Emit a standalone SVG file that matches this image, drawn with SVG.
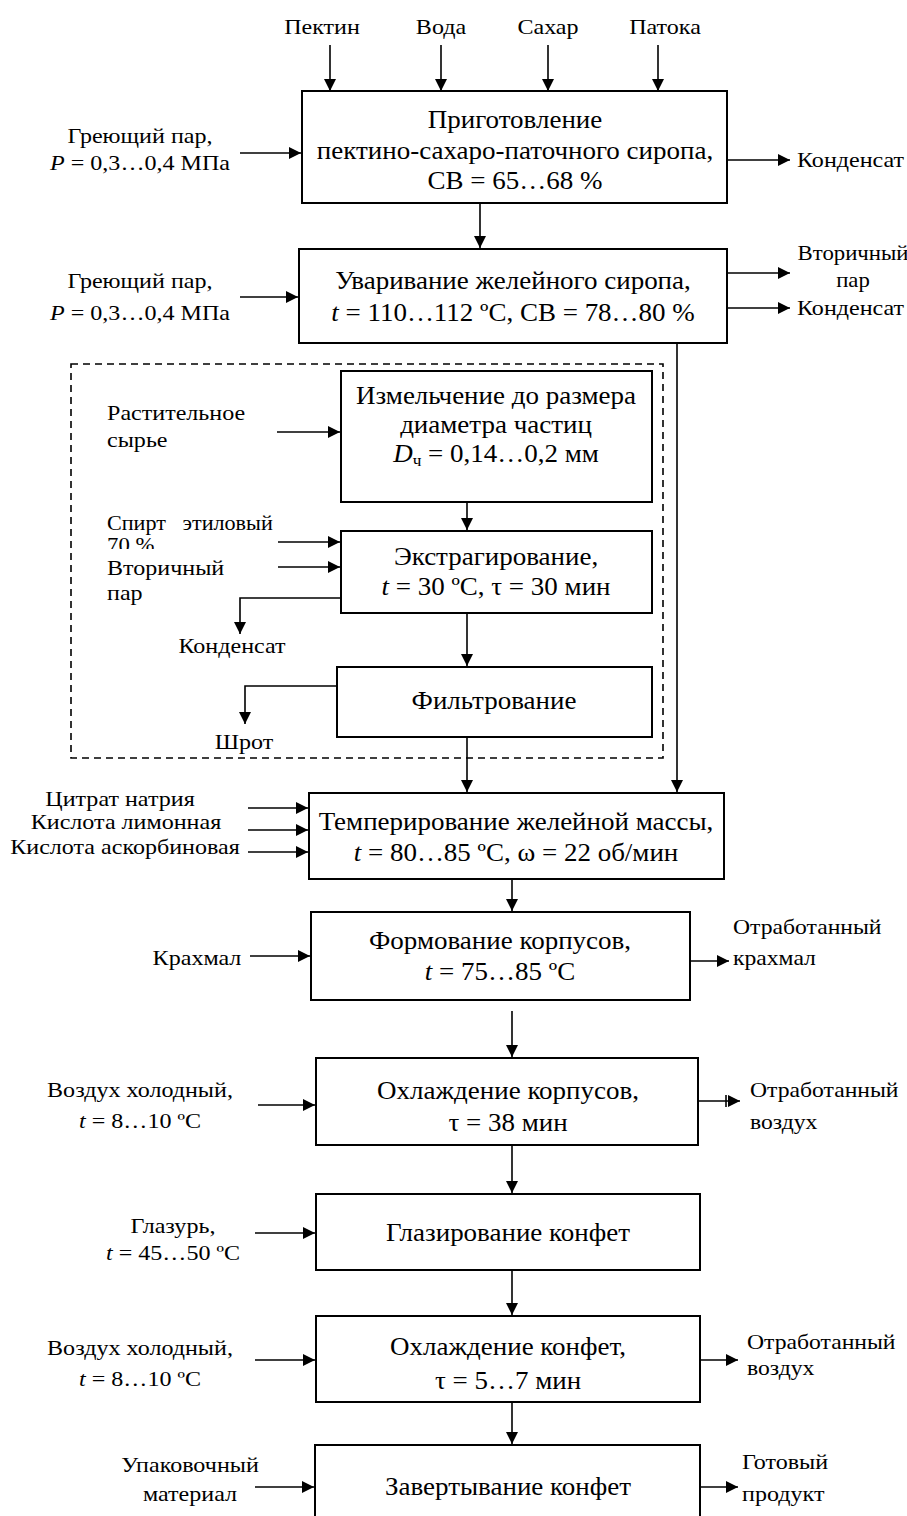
<svg xmlns="http://www.w3.org/2000/svg" width="907" height="1516" viewBox="0 0 907 1516">
<style>
text{font-family:"Liberation Serif","Times New Roman",serif;fill:#000}
.b{font-size:25px}
.l{font-size:21.5px}
.m{text-anchor:middle}
.i{font-style:italic}
.box{fill:#fff;stroke:#000;stroke-width:2}
.ln{fill:none;stroke:#000;stroke-width:1.6}
.dash{fill:none;stroke:#000;stroke-width:1.6;stroke-dasharray:7 5}
</style>
<defs>
<marker id="ah" markerUnits="userSpaceOnUse" markerWidth="14" markerHeight="14" refX="12" refY="7" orient="auto">
<path d="M0,1 L12,7 L0,13 Z" fill="#000"/>
</marker>
<clipPath id="clip70"><rect x="0" y="530" width="300" height="19"/></clipPath>
</defs>

<rect class="dash" x="71" y="364" width="592" height="394"/>

<g id="connectors">
<line class="ln" x1="330" y1="45" x2="330" y2="91" marker-end="url(#ah)"/>
<line class="ln" x1="441" y1="45" x2="441" y2="91" marker-end="url(#ah)"/>
<line class="ln" x1="548" y1="45" x2="548" y2="91" marker-end="url(#ah)"/>
<line class="ln" x1="658" y1="45" x2="658" y2="91" marker-end="url(#ah)"/>
<line class="ln" x1="240" y1="153" x2="301" y2="153" marker-end="url(#ah)"/>
<line class="ln" x1="728" y1="160" x2="790" y2="160" marker-end="url(#ah)"/>
<line class="ln" x1="480" y1="203" x2="480" y2="248" marker-end="url(#ah)"/>
<line class="ln" x1="240" y1="297" x2="298" y2="297" marker-end="url(#ah)"/>
<line class="ln" x1="728" y1="273" x2="790" y2="273" marker-end="url(#ah)"/>
<line class="ln" x1="728" y1="308" x2="790" y2="308" marker-end="url(#ah)"/>
<line class="ln" x1="677" y1="343" x2="677" y2="792" marker-end="url(#ah)"/>
<line class="ln" x1="277" y1="432" x2="340" y2="432" marker-end="url(#ah)"/>
<line class="ln" x1="467" y1="503" x2="467" y2="530" marker-end="url(#ah)"/>
<line class="ln" x1="278" y1="542" x2="340" y2="542" marker-end="url(#ah)"/>
<line class="ln" x1="278" y1="567" x2="340" y2="567" marker-end="url(#ah)"/>
<polyline class="ln" points="341,598 240,598 240,634" marker-end="url(#ah)"/>
<line class="ln" x1="467" y1="613" x2="467" y2="666" marker-end="url(#ah)"/>
<polyline class="ln" points="337,686 245,686 245,724" marker-end="url(#ah)"/>
<line class="ln" x1="467" y1="737" x2="467" y2="792" marker-end="url(#ah)"/>
<line class="ln" x1="248" y1="808" x2="308" y2="808" marker-end="url(#ah)"/>
<line class="ln" x1="248" y1="830" x2="308" y2="830" marker-end="url(#ah)"/>
<line class="ln" x1="248" y1="852" x2="308" y2="852" marker-end="url(#ah)"/>
<line class="ln" x1="512" y1="879" x2="512" y2="911" marker-end="url(#ah)"/>
<line class="ln" x1="250" y1="956" x2="310" y2="956" marker-end="url(#ah)"/>
<line class="ln" x1="691" y1="961" x2="729" y2="961" marker-end="url(#ah)"/>
<line class="ln" x1="512" y1="1011" x2="512" y2="1057" marker-end="url(#ah)"/>
<line class="ln" x1="258" y1="1105" x2="315" y2="1105" marker-end="url(#ah)"/>
<line class="ln" x1="699" y1="1101" x2="740" y2="1101" marker-end="url(#ah)"/>
<line class="ln" x1="726" y1="1095" x2="726" y2="1107"/>
<line class="ln" x1="512" y1="1146" x2="512" y2="1193" marker-end="url(#ah)"/>
<line class="ln" x1="255" y1="1233" x2="315" y2="1233" marker-end="url(#ah)"/>
<line class="ln" x1="512" y1="1271" x2="512" y2="1315" marker-end="url(#ah)"/>
<line class="ln" x1="255" y1="1360" x2="315" y2="1360" marker-end="url(#ah)"/>
<line class="ln" x1="701" y1="1360" x2="738" y2="1360" marker-end="url(#ah)"/>
<line class="ln" x1="512" y1="1403" x2="512" y2="1444" marker-end="url(#ah)"/>
<line class="ln" x1="255" y1="1487" x2="314" y2="1487" marker-end="url(#ah)"/>
<line class="ln" x1="701" y1="1487" x2="738" y2="1487" marker-end="url(#ah)"/>
</g>

<g id="inputs">
<text class="l m" transform="translate(322 34) scale(1.12 1)">Пектин</text>
<text class="l m" transform="translate(441 34) scale(1.12 1)">Вода</text>
<text class="l m" transform="translate(548 34) scale(1.12 1)">Сахар</text>
<text class="l m" transform="translate(665 34) scale(1.12 1)">Патока</text>
<text class="l m" transform="translate(140 143) scale(1.12 1)">Греющий пар,</text>
<text class="l m" transform="translate(140 170) scale(1.12 1)"><tspan class="i">P</tspan> = 0,3…0,4 МПа</text>
<text class="l" transform="translate(797 167) scale(1.12 1)">Конденсат</text>
<text class="l m" transform="translate(140 288) scale(1.12 1)">Греющий пар,</text>
<text class="l m" transform="translate(140 320) scale(1.12 1)"><tspan class="i">P</tspan> = 0,3…0,4 МПа</text>
<text class="l m" transform="translate(853 260) scale(1.06 1)">Вторичный</text>
<text class="l m" transform="translate(853 287) scale(1.06 1)">пар</text>
<text class="l" transform="translate(797 315) scale(1.12 1)">Конденсат</text>
<text class="l" transform="translate(107 420) scale(1.12 1)">Растительное</text>
<text class="l" transform="translate(107 447) scale(1.12 1)">сырье</text>
<text class="l" transform="translate(107 530) scale(1.03 1)" style="white-space:pre">Спирт   этиловый</text>
<g clip-path="url(#clip70)"><text class="l" transform="translate(107 552) scale(1.06 1)">70 %</text></g>
<text class="l" transform="translate(107 575) scale(1.12 1)">Вторичный</text>
<text class="l" transform="translate(107 600) scale(1.12 1)">пар</text>
<text class="l m" transform="translate(232 653) scale(1.12 1)">Конденсат</text>
<text class="l m" transform="translate(244 749) scale(1.12 1)">Шрот</text>
<text class="l m" transform="translate(120 806) scale(1.12 1)">Цитрат натрия</text>
<text class="l m" transform="translate(126 829) scale(1.12 1)">Кислота лимонная</text>
<text class="l m" transform="translate(125 854) scale(1.12 1)">Кислота аскорбиновая</text>
<text class="l m" transform="translate(197 965) scale(1.12 1)">Крахмал</text>
<text class="l" transform="translate(733 934) scale(1.1 1)">Отработанный</text>
<text class="l" transform="translate(733 965) scale(1.1 1)">крахмал</text>
<text class="l m" transform="translate(140 1097) scale(1.12 1)">Воздух холодный,</text>
<text class="l m" transform="translate(140 1128) scale(1.12 1)"><tspan class="i">t</tspan> = 8…10 ºC</text>
<text class="l" transform="translate(750 1097) scale(1.1 1)">Отработанный</text>
<text class="l" transform="translate(750 1129) scale(1.1 1)">воздух</text>
<text class="l m" transform="translate(173 1233) scale(1.12 1)">Глазурь,</text>
<text class="l m" transform="translate(173 1260) scale(1.12 1)"><tspan class="i">t</tspan> = 45…50 ºC</text>
<text class="l m" transform="translate(140 1355) scale(1.12 1)">Воздух холодный,</text>
<text class="l m" transform="translate(140 1386) scale(1.12 1)"><tspan class="i">t</tspan> = 8…10 ºC</text>
<text class="l" transform="translate(747 1349) scale(1.1 1)">Отработанный</text>
<text class="l" transform="translate(747 1375) scale(1.1 1)">воздух</text>
<text class="l m" transform="translate(190 1472) scale(1.12 1)">Упаковочный</text>
<text class="l m" transform="translate(190 1501) scale(1.12 1)">материал</text>
<text class="l" transform="translate(742 1469) scale(1.12 1)">Готовый</text>
<text class="l" transform="translate(742 1501) scale(1.12 1)">продукт</text>
</g>

<g id="n1">
<rect class="box" x="302" y="91" width="425" height="112"/>
<text class="b m" transform="translate(515 128) scale(1.08 1)">Приготовление</text>
<text class="b m" transform="translate(515 159) scale(1.08 1)">пектино-сахаро-паточного сиропа,</text>
<text class="b m" transform="translate(515 189) scale(1.08 1)">СВ = 65…68 %</text>
</g>
<g id="n2">
<rect class="box" x="299" y="249" width="428" height="94"/>
<text class="b m" transform="translate(513 289) scale(1.08 1)">Уваривание желейного сиропа,</text>
<text class="b m" transform="translate(513 321) scale(1.08 1)"><tspan class="i">t</tspan> = 110…112 ºC, СВ = 78…80 %</text>
</g>
<g id="n3">
<rect class="box" x="341" y="371" width="311" height="131"/>
<text class="b m" transform="translate(496 404) scale(1.08 1)">Измельчение до размера</text>
<text class="b m" transform="translate(496 433) scale(1.08 1)">диаметра частиц</text>
<text class="b m" transform="translate(496 462) scale(1.08 1)"><tspan class="i">D</tspan><tspan font-size="16" dy="4">ч</tspan><tspan dy="-4"> = 0,14…0,2 мм</tspan></text>
</g>
<g id="n4">
<rect class="box" x="341" y="531" width="311" height="82"/>
<text class="b m" transform="translate(496 565) scale(1.08 1)">Экстрагирование,</text>
<text class="b m" transform="translate(496 595) scale(1.08 1)"><tspan class="i">t</tspan> = 30 ºC, τ = 30 мин</text>
</g>
<g id="n5">
<rect class="box" x="337" y="667" width="315" height="70"/>
<text class="b m" transform="translate(494 709) scale(1.08 1)">Фильтрование</text>
</g>
<g id="n6">
<rect class="box" x="309" y="793" width="415" height="86"/>
<text class="b m" transform="translate(516 830) scale(1.08 1)">Темперирование желейной массы,</text>
<text class="b m" transform="translate(516 861) scale(1.08 1)"><tspan class="i">t</tspan> = 80…85 ºC, ω = 22 об/мин</text>
</g>
<g id="n7">
<rect class="box" x="311" y="912" width="379" height="88"/>
<text class="b m" transform="translate(500 949) scale(1.08 1)">Формование корпусов,</text>
<text class="b m" transform="translate(500 980) scale(1.08 1)"><tspan class="i">t</tspan> = 75…85 ºC</text>
</g>
<g id="n8">
<rect class="box" x="316" y="1058" width="382" height="87"/>
<text class="b m" transform="translate(508 1099) scale(1.08 1)">Охлаждение корпусов,</text>
<text class="b m" transform="translate(508 1131) scale(1.08 1)">τ = 38 мин</text>
</g>
<g id="n9">
<rect class="box" x="316" y="1194" width="384" height="76"/>
<text class="b m" transform="translate(508 1241) scale(1.08 1)">Глазирование конфет</text>
</g>
<g id="n10">
<rect class="box" x="316" y="1316" width="384" height="86"/>
<text class="b m" transform="translate(508 1355) scale(1.08 1)">Охлаждение конфет,</text>
<text class="b m" transform="translate(508 1389) scale(1.08 1)">τ = 5…7 мин</text>
</g>
<g id="n11">
<rect class="box" x="315" y="1445" width="385" height="80"/>
<text class="b m" transform="translate(508 1495) scale(1.08 1)">Завертывание конфет</text>
</g>
</svg>
